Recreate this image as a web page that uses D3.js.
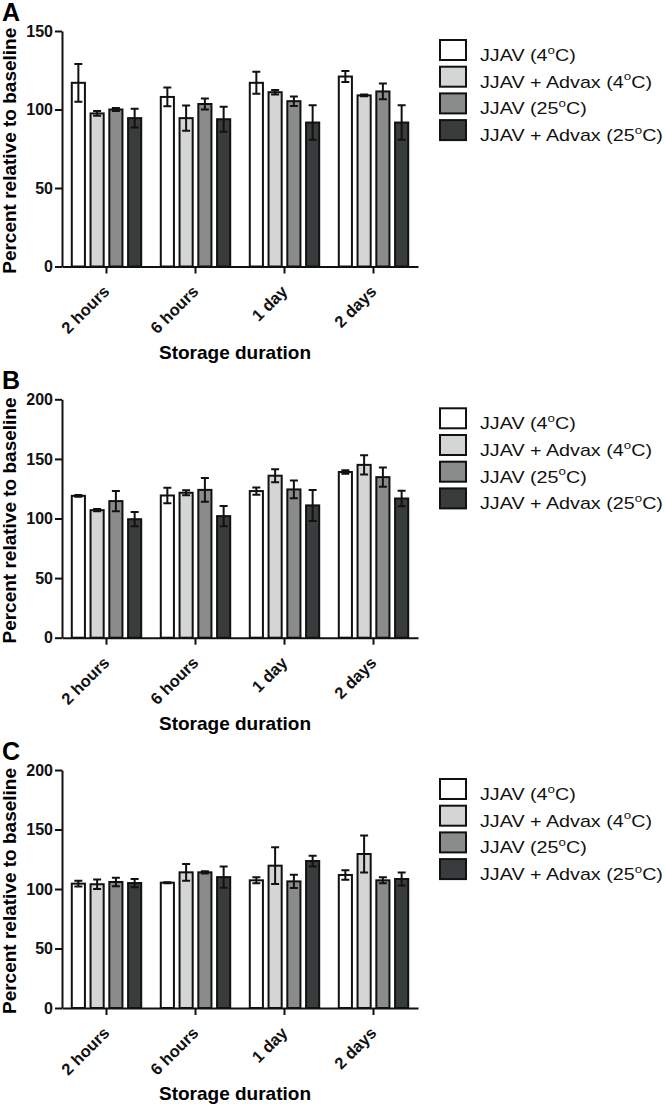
<!doctype html>
<html lang='en'>
<head>
    <meta charset='UTF-8'>
    <title>Storage duration</title>
    <style>
        body,html{
            margin: 0;
            padding: 0;
            background: #fff;
            font-family: 'Liberation Sans', Arial, sans-serif;
        }
        .axis path,
        .axis line{
            fill: none;
            stroke: #111;
            stroke-width: 2px;
        }
        .axis text{
            font-weight: bold;
            fill: #111;
        }
        .bar{
            stroke: #111;
            stroke-width: 2px;
        }
        .err{
            stroke: #111;
            stroke-width: 2px;
            fill: none;
        }
        .legend-label{
            font-size: 17px;
            fill: #111;
        }
    </style>
</head>
<body>
<script src='https://d3js.org/d3.v7.min.js'></script>
<script>
  const categories = ['2 hours', '6 hours', '1 day', '2 days']
  const seriesNames = ['JJAV (4', 'JJAV + Advax (4', 'JJAV (25', 'JJAV + Advax (25']
  const colors = ['#ffffff', '#d4d6d6', '#8a8c8c', '#393c3c']

  // panel A - means / errors, one array per series
  const meanA = [
    [117, 108, 117, 121],
    [97.5, 94.5, 111, 109],
    [100, 103.5, 105.3, 111.5],
    [94.5, 93.8, 91.7, 91.7]
  ]
  const errA = [
    [12, 6, 7, 3.5],
    [1.5, 8, 1.5, 0.5],
    [1, 3.5, 3, 5],
    [6, 8, 11, 11]
  ]
  // panel B
  const meanB = [
    [119, 119.3, 123, 139],
    [107, 121.6, 135.9, 145],
    [114.6, 124, 124.4, 134.7],
    [99.4, 102, 111, 116.8]
  ]
  const errB = [
    [0.8, 6.5, 3, 1.5],
    [1, 2, 5.5, 8],
    [8.5, 10, 7.5, 8],
    [6, 8.5, 13, 6.5]
  ]
  // panel C
  const meanC = [
    [104.5, 105.3, 107.3, 111.8],
    [104, 114, 119.6, 129.4],
    [105.9, 114, 106.4, 107.3],
    [105, 110, 123.5, 108.4]
  ]
  const errC = [
    [2.5, 0.4, 2.5, 4],
    [4, 7, 15.5, 15.5],
    [3.5, 1, 5.5, 2.5],
    [3.5, 9, 4.5, 5.5]
  ]
  const yTicksA = [0, 50, 100, 150]
  const yTicksBC = [0, 50, 100, 150, 200]

  const W = 666
  const H = 1104

  const panels = [
    {label: 'A', mean: meanA, err: errA, ticks: yTicksA, top: 31, bottom: 266.5},
    {label: 'B', mean: meanB, err: errB, ticks: yTicksBC, top: 399.3, bottom: 637.7},
    {label: 'C', mean: meanC, err: errC, ticks: yTicksBC, top: 770, bottom: 1008}
  ]

  const svg = d3.select('body').append('svg')
    .attr('width', W)
    .attr('height', H)

  const x = d3.scaleBand()
    .domain(categories)
    .range([62, 418])
    .paddingInner(0.22)
    .paddingOuter(0.11)

  const xs = d3.scaleBand()
    .domain(d3.range(seriesNames.length))
    .range([0, x.bandwidth()])
    .paddingInner(0.3)
    .paddingOuter(0)

  function drawPanel(p){
    const g = svg.append('g')
    const y = d3.scaleLinear()
      .domain([0, d3.max(p.ticks)])
      .range([p.bottom, p.top])

    // bars
    p.mean.forEach((vals, s) => {
      const sg = g.append('g')
      sg.selectAll('rect')
        .data(vals)
        .enter()
        .append('rect')
        .classed('bar', true)
        .attr('x', (d, i) => x(categories[i]) + xs(s))
        .attr('y', d => y(d))
        .attr('width', xs.bandwidth())
        .attr('height', d => y(0) - y(d))
        .style('fill', colors[s])

      // error bars
      const cap = 4
      sg.selectAll('path.err')
        .data(vals)
        .enter()
        .append('path')
        .classed('err', true)
        .attr('d', (d, i) => {
          const cx = x(categories[i]) + xs(s) + xs.bandwidth() / 2
          const hi = y(d + p.err[s][i])
          const lo = y(d - p.err[s][i])
          return `M${cx - cap},${hi}H${cx + cap}M${cx},${hi}V${lo}M${cx - cap},${lo}H${cx + cap}`
        })
    })

    // y axis
    g.append('g')
      .classed('axis', true)
      .attr('transform', 'translate(62,0)')
      .call(d3.axisLeft(y).tickValues(p.ticks).tickSize(7).tickSizeOuter(0).tickPadding(2))
      .selectAll('text')
      .style('font-size', '16px')

    // x axis
    g.append('g')
      .classed('axis', true)
      .attr('transform', `translate(0,${p.bottom})`)
      .call(d3.axisBottom(x).tickSize(7).tickSizeOuter(0))
      .selectAll('text')
      .style('font-size', '16.5px')
      .style('text-anchor', 'end')
      .attr('y', 0)
      .attr('dy', 0)
      .attr('transform', 'translate(4,26) rotate(-45)')

    // titles
    g.append('text')
      .attr('transform', `translate(16,${(p.top + p.bottom) / 2 + 2}) rotate(-90)`)
      .style('text-anchor', 'middle')
      .style('font-weight', 'bold')
      .style('font-size', '19px')
      .text('Percent relative to baseline')

    g.append('text')
      .attr('x', 235)
      .attr('y', p.bottom + 92)
      .style('text-anchor', 'middle')
      .style('font-weight', 'bold')
      .style('font-size', '19px')
      .text('Storage duration')

    g.append('text')
      .attr('x', 2)
      .attr('y', p.top - 10.5)
      .style('font-weight', 'bold')
      .style('font-size', '25px')
      .text(p.label)

    // legend
    const lg = g.append('g')
      .attr('transform', `translate(440,${p.top + 9})`)
    seriesNames.forEach((name, s) => {
      const row = lg.append('g').attr('transform', `translate(0,${s * 26.7})`)
      row.append('rect')
        .classed('bar', true)
        .attr('width', 26)
        .attr('height', 20)
        .style('fill', colors[s])
      const t = row.append('text')
        .classed('legend-label', true)
        .attr('transform', 'translate(40,21) scale(1.16,1)')
      t.append('tspan').text(name)
      t.append('tspan').attr('dy', -7.5).style('font-size', '11.5px').text('o')
      t.append('tspan').attr('dy', 7.5).text('C)')
    })
  }

  panels.forEach(drawPanel)
</script>
</body>
</html>
